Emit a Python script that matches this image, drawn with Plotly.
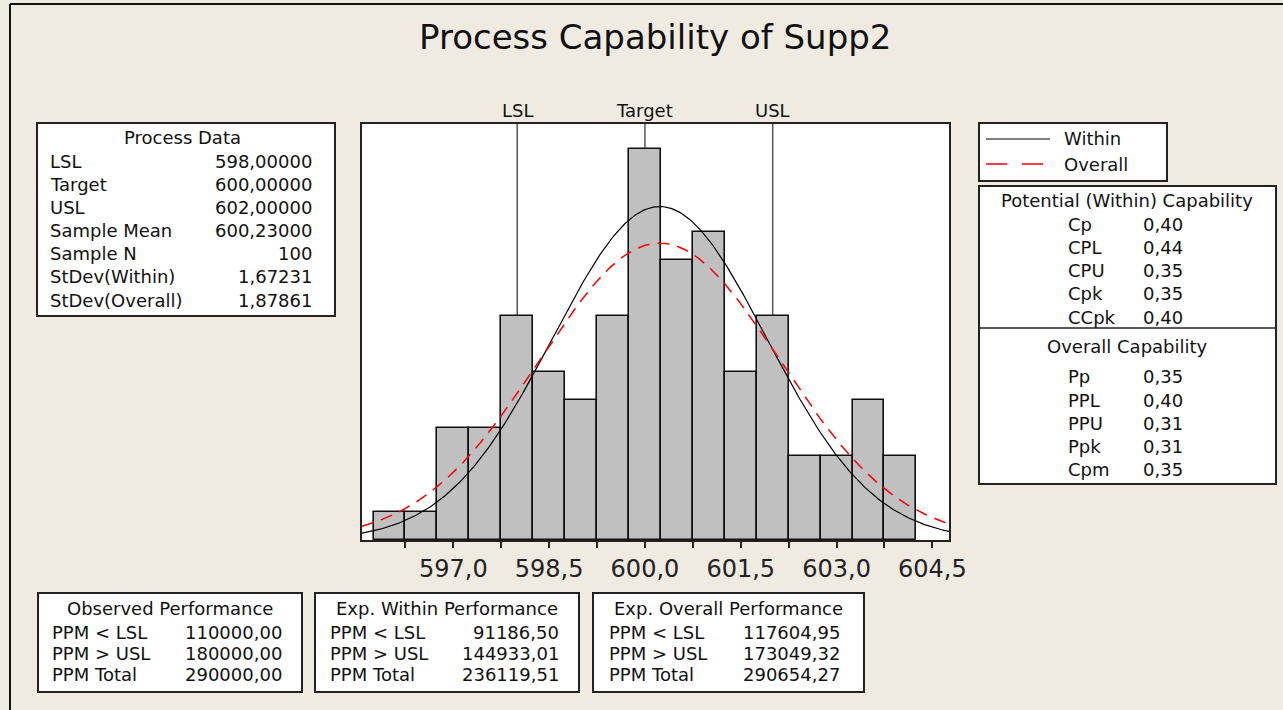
import numpy as np
import plotly.graph_objects as go

# ---------------- data ----------------
bin_centers = [596.0, 596.5, 597.0, 597.5, 598.0, 598.5, 599.0, 599.5, 600.0,
               600.5, 601.0, 601.5, 602.0, 602.5, 603.0, 603.5, 604.0]
counts = [1, 1, 4, 4, 8, 6, 5, 8, 14, 10, 11, 6, 8, 3, 3, 5, 3]
bin_width = 0.5

spec_names = ["LSL", "Target", "USL"]
spec_values = [598.0, 600.0, 602.0]

sample_mean = 600.23
sample_n = 100
sd_within = 1.67231
sd_overall = 1.87861

tick_vals = [596.25, 597.0, 597.75, 598.5, 599.25, 600.0, 600.75, 601.5,
             602.25, 603.0, 603.75, 604.5]
tick_text = ["", "597,0", "", "598,5", "", "600,0", "", "601,5", "", "603,0", "", "604,5"]

process_title = "Process Data"
process_labels = ["LSL", "Target", "USL", "Sample Mean", "Sample N",
                  "StDev(Within)", "StDev(Overall)"]
process_values = ["598,00000", "600,00000", "602,00000", "600,23000", "100",
                  "1,67231", "1,87861"]

within_cap_title = "Potential (Within) Capability"
within_cap_labels = ["Cp", "CPL", "CPU", "Cpk", "CCpk"]
within_cap_values = ["0,40", "0,44", "0,35", "0,35", "0,40"]

overall_cap_title = "Overall Capability"
overall_cap_labels = ["Pp", "PPL", "PPU", "Ppk", "Cpm"]
overall_cap_values = ["0,35", "0,40", "0,31", "0,31", "0,35"]

perf_labels = ["PPM &lt; LSL", "PPM &gt; USL", "PPM Total"]
perf_titles = ["Observed Performance", "Exp. Within Performance", "Exp. Overall Performance"]
perf_values = [
    ["110000,00", "180000,00", "290000,00"],
    ["91186,50", "144933,01", "236119,51"],
    ["117604,95", "173049,32", "290654,27"],
]

legend_names = ["Within", "Overall"]

# ---------------- layout helpers ----------------
W, H = 1283, 710
BG = "#EFEBE1"
FONT = "DejaVu Sans"
TXT = "#111111"
FS = 18


def px(x):
    return x / W


def py(y):
    return 1 - y / H


x_lo, x_hi = 595.57, 604.76
y_hi = 14.88

fig = go.Figure()

# histogram bars
fig.add_trace(go.Bar(
    x=bin_centers, y=counts, width=bin_width,
    marker=dict(color="#C0C0C0", line=dict(color="#111111", width=1.6)),
    showlegend=False, hoverinfo="x+y",
))

# fitted normal curves
xs = np.linspace(x_lo, x_hi, 400)
scale = sample_n * bin_width


def normal_curve(sd):
    return scale * np.exp(-0.5 * ((xs - sample_mean) / sd) ** 2) / (sd * np.sqrt(2 * np.pi))


fig.add_trace(go.Scatter(x=xs, y=normal_curve(sd_within), mode="lines",
                         line=dict(color="#000000", width=1.2), name=legend_names[0],
                         showlegend=False))
fig.add_trace(go.Scatter(x=xs, y=normal_curve(sd_overall), mode="lines",
                         line=dict(color="#FF0000", width=1.5, dash="12px,8px"),
                         name=legend_names[1], showlegend=False))

shapes = []
annotations = []

# spec lines
for name, v in zip(spec_names, spec_values):
    shapes.append(dict(type="line", xref="x", yref="paper", x0=v, x1=v,
                       y0=py(540), y1=py(124), layer="below",
                       line=dict(color="#555555", width=1.5)))
    annotations.append(dict(text=name, xref="x", yref="paper", x=v, y=py(110),
                            xanchor="center", yanchor="middle", showarrow=False,
                            font=dict(family=FONT, size=FS, color=TXT)))

# outer frame lines (left and top)
shapes.append(dict(type="line", xref="paper", yref="paper", x0=px(10), x1=px(10),
                   y0=0, y1=py(4), line=dict(color="#111111", width=2)))
shapes.append(dict(type="line", xref="paper", yref="paper", x0=px(10), x1=1,
                   y0=py(4), y1=py(4), line=dict(color="#111111", width=2)))


def box(x0, y0, x1, y1):
    shapes.append(dict(type="rect", xref="paper", yref="paper",
                       x0=px(x0), x1=px(x1), y0=py(y1), y1=py(y0),
                       fillcolor="white", line=dict(color="#222222", width=2)))


def text(s, x, y, anchor="left", size=FS):
    annotations.append(dict(text=s, xref="paper", yref="paper", x=px(x), y=py(y),
                            xanchor=anchor, yanchor="middle", showarrow=False,
                            font=dict(family=FONT, size=size, color=TXT)))


# title
text("Process Capability of Supp2", 655, 37, "center", 34)

# process data box
box(37, 123, 335, 316)
text(process_title, 182, 138, "center")
for i, (lab, val) in enumerate(zip(process_labels, process_values)):
    yy = 161 + i * 23.2
    text(lab, 48, yy, "left")
    text(val, 314, yy, "right")

# legend box
box(979, 123, 1167, 181)
shapes.append(dict(type="line", xref="paper", yref="paper", x0=px(986), x1=px(1050),
                   y0=py(139), y1=py(139), line=dict(color="#000000", width=1.2)))
shapes.append(dict(type="line", xref="paper", yref="paper", x0=px(986), x1=px(1050),
                   y0=py(164), y1=py(164),
                   line=dict(color="#FF0000", width=1.5, dash="21px,15px")))
text(legend_names[0], 1062, 139, "left")
text(legend_names[1], 1062, 164, "left")

# capability box
box(979, 186, 1276, 484)
shapes.append(dict(type="line", xref="paper", yref="paper", x0=px(979), x1=px(1276),
                   y0=py(328), y1=py(328), line=dict(color="#222222", width=1.5)))
text(within_cap_title, 1127, 200, "center")
for i, (lab, val) in enumerate(zip(within_cap_labels, within_cap_values)):
    yy = 224 + i * 23.3
    text(lab, 1066, yy, "left")
    text(val, 1141, yy, "left")
text(overall_cap_title, 1127, 346, "center")
for i, (lab, val) in enumerate(zip(overall_cap_labels, overall_cap_values)):
    yy = 377 + i * 23
    text(lab, 1066, yy, "left")
    text(val, 1141, yy, "left")

# performance boxes
perf_boxes = [(38, 302, 50, 284), (315, 579, 328, 561), (593, 864, 607, 842)]
for (bx0, bx1, lx, vx), title, vals in zip(perf_boxes, perf_titles, perf_values):
    box(bx0, 593, bx1, 692)
    text(title, (bx0 + bx1) / 2, 608, "center")
    for i, (lab, val) in enumerate(zip(perf_labels, vals)):
        yy = 632 + i * 21
        text(lab, lx, yy, "left")
        text(val, vx, yy, "right")

fig.update_layout(
    width=W, height=H, autosize=False,
    margin=dict(l=0, r=0, t=0, b=0, pad=0, autoexpand=False),
    paper_bgcolor=BG, plot_bgcolor="white",
    shapes=shapes, annotations=annotations,
    showlegend=False, bargap=0,
    xaxis=dict(domain=[px(362), px(949)], range=[x_lo, x_hi], automargin=False,
               tickmode="array", tickvals=tick_vals, ticktext=tick_text,
               ticks="outside", ticklen=6, tickcolor="#222222", tickwidth=1.5,
               showgrid=False, zeroline=False, showline=True, linecolor="#222222",
               linewidth=1.5, mirror=True,
               tickfont=dict(family=FONT, size=24, color="#222222")),
    yaxis=dict(domain=[py(540), py(124)], range=[0, y_hi], showticklabels=False,
               automargin=False,
               ticks="", showgrid=False, zeroline=False, showline=True,
               linecolor="#222222", linewidth=1.5, mirror=True),
)

fig.write_html(
    "out.html",
    config={"displayModeBar": False},
    post_script="document.documentElement.style.margin='0';"
                "document.body.style.margin='0';document.body.style.padding='0';"
                "document.body.style.overflow='hidden';"
                "document.documentElement.style.overflow='hidden';",
)
